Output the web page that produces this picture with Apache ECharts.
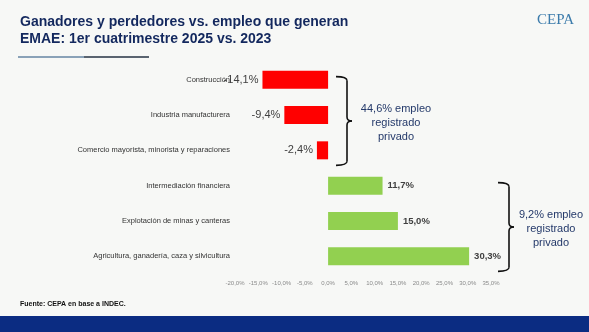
<!DOCTYPE html>
<html>
<head>
<meta charset="utf-8">
<script src="https://cdn.jsdelivr.net/npm/echarts@6/dist/echarts.min.js"></script>
<style>
html,body{margin:0;padding:0;background:#f7f8f6;}
#c{width:589px;height:332px;}
</style>
</head>
<body>
<div id="c"></div>
<script>
const categories = [
  'Construcción',
  'Industria manufacturera',
  'Comercio mayorista, minorista y reparaciones',
  'Intermediación financiera',
  'Explotación de minas y canteras',
  'Agricultura, ganadería, caza y silvicultura'
];
const values = [-14.1, -9.4, -2.4, 11.7, 15.0, 30.3];
const xTicks = { min: -20, max: 35, interval: 5 };
const groupNotes = ['44,6% empleo\nregistrado\nprivado', '9,2% empleo\nregistrado\nprivado'];

const fmt = v => v.toFixed(1).replace('.', ',') + '%';
const chart = echarts.init(document.getElementById('c'), null, { renderer: 'canvas' });

const data = values.map(v => ({
  value: v,
  itemStyle: { color: v < 0 ? '#ff0000' : '#92d050' },
  label: v < 0
    ? { show: true, position: 'left', distance: 4, fontSize: 11, color: '#404040', fontFamily: 'Liberation Sans, Arial', formatter: p => fmt(p.value) }
    : { show: true, position: 'right', distance: 5, fontSize: 9.5, fontWeight: 'bold', color: '#404040', fontFamily: 'Liberation Sans, Arial', formatter: p => fmt(p.value) }
}));

const baseGraphics = [
  { type: 'text', left: 20, top: 14, style: { text: 'Ganadores y perdedores vs. empleo que generan\nEMAE: 1er cuatrimestre 2025 vs. 2023', font: 'bold 14px "Liberation Sans", Arial', fill: '#13285e', lineHeight: 17 } },
  { type: 'rect', shape: { x: 18, y: 56, width: 66, height: 2 }, style: { fill: '#8aa2b8' } },
  { type: 'rect', shape: { x: 84, y: 56, width: 65, height: 2 }, style: { fill: '#5a6470' } },
  { type: 'text', left: 537, top: 13, style: { text: 'CEPA', font: '15px "Liberation Serif", serif', fill: '#3b7bab' } },
  { type: 'text', left: 20, top: 301, style: { text: 'Fuente: CEPA en base a INDEC.', font: 'bold 7px "Liberation Sans", Arial', fill: '#111' } },
  { type: 'rect', shape: { x: 0, y: 316, width: 589, height: 16 }, style: { fill: '#0b2c82' } }
];

chart.setOption({
  backgroundColor: '#f7f8f6',
  animation: false,
  grid: { left: 235, right: 98, top: 62, bottom: 58, containLabel: false },
  xAxis: {
    type: 'value', min: xTicks.min, max: xTicks.max, interval: xTicks.interval,
    axisLine: { show: false }, axisTick: { show: false }, splitLine: { show: false },
    axisLabel: { fontSize: 6, color: '#8a8a8a', margin: 6, formatter: v => fmt(v), fontFamily: 'Liberation Sans, Arial' }
  },
  yAxis: {
    type: 'category', data: categories, inverse: true,
    axisLine: { show: false, onZero: false }, axisTick: { show: false },
    axisLabel: { fontSize: 7.5, color: '#333', margin: 5, fontFamily: 'Liberation Sans, Arial' }
  },
  series: [{ type: 'bar', data: data, barWidth: 18 }],
  graphic: baseGraphics
});

function yOf(i) { return chart.convertToPixel({ yAxisIndex: 0 }, categories[i]); }
function brace(x0, top, bottom) {
  const x1 = x0 + 11, x2 = x0 + 16, mid = (top + bottom) / 2, r = 4;
  const st = { stroke: '#111', lineWidth: 1.6, fill: null };
  const curve = (a, b, c, d, e, f) => ({ type: 'bezierCurve', shape: { x1: a, y1: b, cpx1: c, cpy1: d, x2: e, y2: f }, style: st });
  const line = (a, b, c, d) => ({ type: 'line', shape: { x1: a, y1: b, x2: c, y2: d }, style: st });
  return [
    curve(x0, top, x1, top, x1, top + r),
    line(x1, top + r, x1, mid - r),
    curve(x1, mid - r, x1, mid, x2, mid),
    curve(x2, mid, x1, mid, x1, mid + r),
    line(x1, mid + r, x1, bottom - r),
    curve(x1, bottom - r, x1, bottom, x0, bottom)
  ];
}
const b1top = yOf(0) - 3, b1bot = yOf(2) + 15;
const b2top = yOf(3) - 3, b2bot = yOf(5) + 15;
const extra = [].concat(
  brace(336, b1top, b1bot),
  brace(498, b2top, b2bot),
  [
    { type: 'text', x: 396, y: (b1top + b1bot) / 2 + 2, style: { text: groupNotes[0], font: '11px "Liberation Sans", Arial', fill: '#24396a', align: 'center', verticalAlign: 'middle', lineHeight: 14 } },
    { type: 'text', x: 551, y: (b2top + b2bot) / 2 + 2, style: { text: groupNotes[1], font: '11px "Liberation Sans", Arial', fill: '#24396a', align: 'center', verticalAlign: 'middle', lineHeight: 14 } }
  ]
);
chart.setOption({ graphic: baseGraphics.concat(extra) });
</script>
</body>
</html>
